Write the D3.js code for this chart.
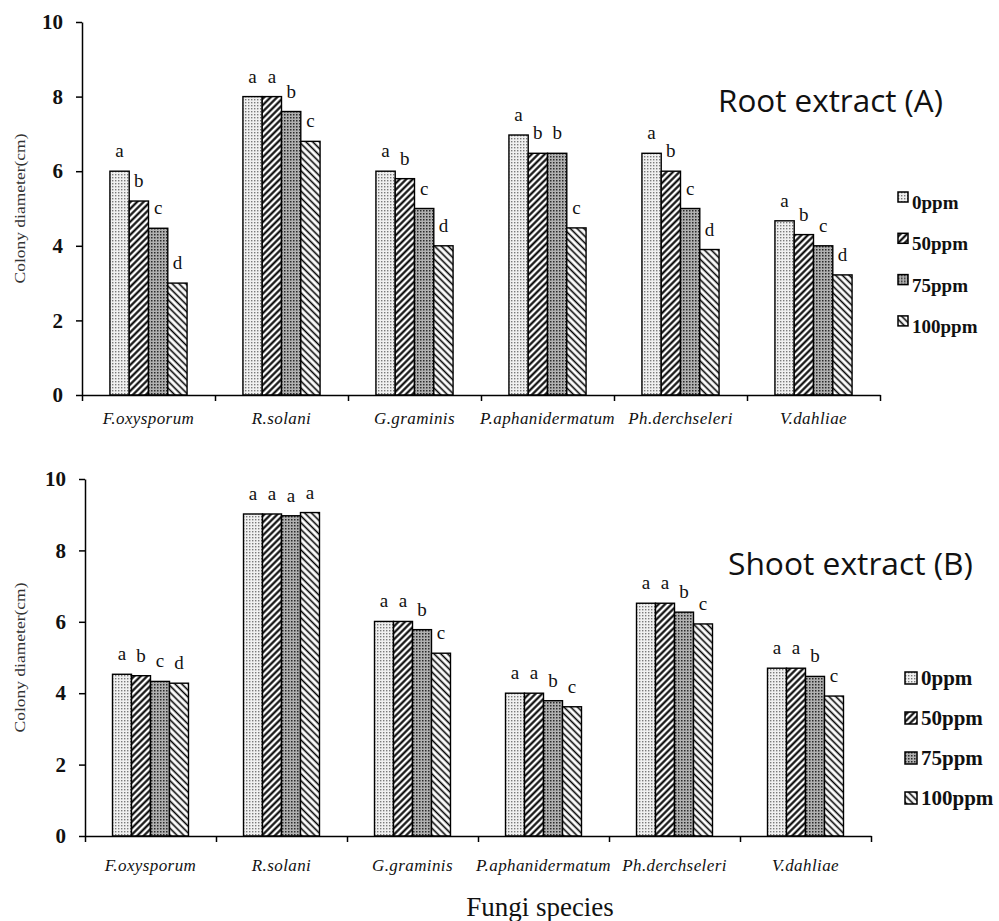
<!DOCTYPE html>
<html>
<head>
<meta charset="utf-8">
<script src="https://cdn.jsdelivr.net/npm/d3@7"></script>
<style>
  body { margin: 0; background: #fff; }
  svg { display: block; }
</style>
</head>
<body>
<div id="chart"></div>
<script>
// Data
const species = ["F.oxysporum", "R.solani", "G.graminis", "P.aphanidermatum", "Ph.derchseleri", "V.dahliae"];
const doses = ["0ppm", "50ppm", "75ppm", "100ppm"];
const yTicks = [0, 2, 4, 6, 8, 10];

const rootValues = [
  [6.0, 5.2, 4.47, 3.0],
  [8.0, 8.0, 7.6, 6.8],
  [6.0, 5.8, 5.0, 4.0],
  [6.97, 6.48, 6.48, 4.48],
  [6.48, 6.0, 5.0, 3.9],
  [4.67, 4.3, 4.0, 3.22]
];
const rootLetters = [
  ["a", "b", "c", "d"],
  ["a", "a", "b", "c"],
  ["a", "b", "c", "d"],
  ["a", "b", "b", "c"],
  ["a", "b", "c", "d"],
  ["a", "b", "c", "d"]
];

const shootValues = [
  [4.53, 4.49, 4.33, 4.28],
  [9.02, 9.02, 8.97, 9.06],
  [6.01, 6.01, 5.78, 5.12],
  [4.0, 4.0, 3.79, 3.62],
  [6.52, 6.52, 6.27, 5.94],
  [4.7, 4.7, 4.47, 3.92]
];
const shootLetters = [
  ["a", "b", "c", "d"],
  ["a", "a", "a", "a"],
  ["a", "a", "b", "c"],
  ["a", "a", "b", "c"],
  ["a", "a", "b", "c"],
  ["a", "a", "b", "c"]
];

const W = 999, H = 921;
const serif = "'Liberation Serif', 'Times New Roman', serif";

const svg = d3.select("#chart").append("svg")
  .attr("width", W)
  .attr("height", H);

// hatch / stipple fills, one per dose
const defs = svg.append("defs");

function dotPattern(id, bg, dot, size, r) {
  const p = defs.append("pattern").attr("id", id)
    .attr("patternUnits", "userSpaceOnUse")
    .attr("width", size).attr("height", size);
  p.append("rect").attr("width", size).attr("height", size).attr("fill", bg);
  p.append("rect").attr("x", 0).attr("y", 0).attr("width", r).attr("height", r).attr("fill", dot);
}
function linePattern(id, size, sw, rot) {
  const p = defs.append("pattern").attr("id", id)
    .attr("patternUnits", "userSpaceOnUse")
    .attr("width", size).attr("height", size)
    .attr("patternTransform", `rotate(${rot})`);
  p.append("rect").attr("width", size).attr("height", size).attr("fill", "#fff");
  p.append("line").attr("x1", size / 2).attr("x2", size / 2)
    .attr("y1", 0).attr("y2", size)
    .attr("stroke", "#000").attr("stroke-width", sw);
}
dotPattern("p0", "#f0f0f0", "#7a7a7a", 3, 1.4);
linePattern("p50", 4.6, 2.1, 45);
dotPattern("p75", "#b0b0b0", "#2a2a2a", 3, 1.5);
linePattern("p100", 4.8, 1.6, -45);
const fills = ["url(#p0)", "url(#p50)", "url(#p75)", "url(#p100)"];

const panels = [
  {
    values: rootValues, letters: rootLetters, title: "Root extract (A)",
    left: 82, right: 880, top: 22, bottom: 395,
    titleX: 718, titleY: 112, titleW: 225,
    legX: 898, legY: 192, legStep: 41.3, legBox: 10, legFont: 19, legTextDy: 17,
    labelY: 424
  },
  {
    values: shootValues, letters: shootLetters, title: "Shoot extract (B)",
    left: 85, right: 871, top: 479, bottom: 836,
    titleX: 728, titleY: 575, titleW: 245,
    legX: 905, legY: 672, legStep: 40, legBox: 12, legFont: 21, legTextDy: 13,
    labelY: 871
  }
];

panels.forEach(cfg => {
  const g = svg.append("g");

  const x0 = d3.scaleBand().domain(species).range([cfg.left, cfg.right]).padding(0);
  const groupW = x0.bandwidth() * 0.58;
  const x1 = d3.scaleBand().domain(doses)
    .range([(x0.bandwidth() - groupW) / 2, (x0.bandwidth() + groupW) / 2]);
  const y = d3.scaleLinear().domain([0, 10]).range([cfg.bottom, cfg.top]);

  // bars
  const groups = g.selectAll(".grp")
    .data(species.map((s, i) => ({ s, vals: cfg.values[i], lets: cfg.letters[i] })))
    .join("g")
    .attr("transform", d => `translate(${x0(d.s)},0)`);

  groups.selectAll("rect")
    .data(d => d.vals.map((v, j) => ({ v, dose: doses[j], j })))
    .join("rect")
    .attr("x", d => x1(d.dose))
    .attr("width", x1.bandwidth())
    .attr("y", d => y(d.v))
    .attr("height", d => y(0) - y(d.v))
    .attr("fill", d => fills[d.j])
    .attr("stroke", "#000")
    .attr("stroke-width", 1.4);

  // significance letters
  groups.selectAll("text.sig")
    .data(d => d.vals.map((v, j) => ({ v, dose: doses[j], l: d.lets[j] })))
    .join("text")
    .attr("class", "sig")
    .attr("x", d => x1(d.dose) + x1.bandwidth() / 2)
    .attr("y", d => y(d.v) - 14)
    .attr("text-anchor", "middle")
    .attr("font-family", serif)
    .attr("font-size", 19)
    .attr("fill", "#111")
    .text(d => d.l);

  // y axis
  const yAxis = d3.axisLeft(y).tickValues(yTicks).tickSize(6).tickSizeOuter(0).tickPadding(13);
  const yG = g.append("g").attr("transform", `translate(${cfg.left},0)`).call(yAxis);
  yG.selectAll("text")
    .attr("font-family", serif).attr("font-size", 21).attr("font-weight", "bold").attr("fill", "#111");

  // x axis: boundary ticks + category labels
  const xb = d3.scaleLinear().domain([0, species.length]).range([cfg.left, cfg.right]);
  const xAxis = d3.axisBottom(xb).ticks(species.length).tickFormat("").tickSize(6).tickSizeOuter(0);
  g.append("g").attr("transform", `translate(0,${cfg.bottom})`).call(xAxis);

  g.selectAll(".cat")
    .data(species)
    .join("text")
    .attr("class", "cat")
    .attr("x", d => x0(d) + x0.bandwidth() / 2)
    .attr("y", cfg.labelY)
    .attr("text-anchor", "middle")
    .attr("font-family", serif)
    .attr("font-style", "italic")
    .attr("font-size", 17)
    .attr("letter-spacing", 0.4)
    .attr("fill", "#111")
    .text(d => d);

  g.selectAll(".domain, .tick line").attr("stroke", "#000").attr("stroke-width", 1.5);

  // y title
  g.append("text")
    .attr("transform", `translate(25,${(cfg.top + cfg.bottom) / 2}) rotate(-90)`)
    .attr("text-anchor", "middle")
    .attr("font-family", serif)
    .attr("font-size", 15)
    .attr("fill", "#333")
    .attr("textLength", 150)
    .attr("lengthAdjust", "spacingAndGlyphs")
    .text("Colony diameter(cm)");

  // panel title
  g.append("text")
    .attr("x", cfg.titleX)
    .attr("y", cfg.titleY)
    .attr("font-family", "'Open Sans', sans-serif")
    .attr("font-size", 31)
    .attr("fill", "#111")
    .attr("textLength", cfg.titleW)
    .attr("lengthAdjust", "spacingAndGlyphs")
    .text(cfg.title);

  // legend
  const leg = g.selectAll(".leg")
    .data(doses)
    .join("g")
    .attr("transform", (d, i) => `translate(${cfg.legX},${cfg.legY + i * cfg.legStep})`);
  leg.append("rect")
    .attr("width", cfg.legBox).attr("height", cfg.legBox)
    .attr("fill", (d, i) => fills[i])
    .attr("stroke", "#000").attr("stroke-width", 1.5);
  leg.append("text")
    .attr("x", cfg.legBox + 4)
    .attr("y", cfg.legTextDy)
    .attr("font-family", serif)
    .attr("font-weight", "bold")
    .attr("font-size", cfg.legFont)
    .attr("fill", "#111")
    .text(d => d);
});

// shared x title
svg.append("text")
  .attr("x", 540)
  .attr("y", 916)
  .attr("text-anchor", "middle")
  .attr("font-family", serif)
  .attr("font-size", 27)
  .attr("fill", "#111")
  .text("Fungi species");
</script>
</body>
</html>
